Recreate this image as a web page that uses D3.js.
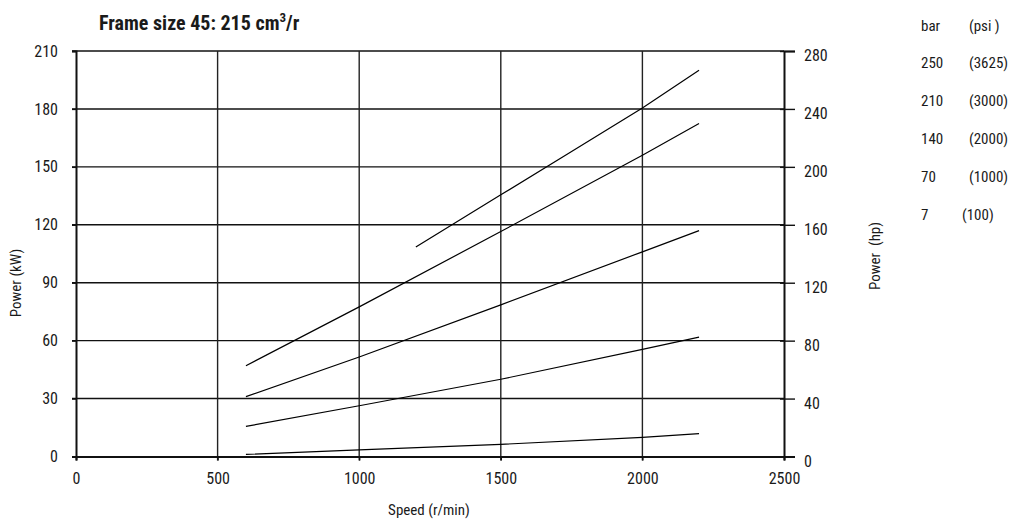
<!DOCTYPE html>
<html><head><meta charset="utf-8">
<script src="https://cdn.jsdelivr.net/npm/d3@7"></script>
<style>
html,body{margin:0;padding:0;background:#fff;}
svg text{font-family:"Liberation Sans Narrow","Arial Narrow","Roboto Condensed",sans-serif;fill:#1a1a1a;}
</style></head>
<body><svg id="c" width="1021" height="529"></svg>
<script>
const title = "Frame size 45: 215 cm";
const xTicks = [0, 500, 1000, 1500, 2000, 2500];
const yTicksKW = [0, 30, 60, 90, 120, 150, 180, 210];
const yTicksHP = [0, 40, 80, 120, 160, 200, 240, 280];
const legendBar = ["250", "210", "140", "70", "7"];
const legendPsi = ["(3625)", "(3000)", "(2000)", "(1000)", "(100)"];
const speed250 = [1200, 1500, 1750, 2000, 2200];
const kw250 = [108.5, 135.5, 158, 180.5, 200];
const speedLow = [600, 1000, 1500, 2000, 2200];
const kw210 = [47, 77.5, 116.5, 156, 172.5];
const kw140 = [31, 51.5, 78.5, 106, 117];
const kw70 = [15.6, 26.3, 40, 55.5, 61.8];
const kw7 = [1.1, 3.4, 6.3, 9.9, 11.8];

const svg = d3.select("#c");
const L = 76, R = 784, T = 51, B = 456.5;
const x = d3.scaleLinear().domain([0, 2500]).range([L, R]);
const y = d3.scaleLinear().domain([0, 210]).range([B, T]);
const yh = d3.scaleLinear().domain([0, 280]).range([B, T]);

// grid
svg.append("g").selectAll("line").data(yTicksKW.filter(d => d > 0)).join("line")
  .attr("x1", x(0) - 4).attr("x2", R).attr("y1", d => y(d)).attr("y2", d => y(d))
  .attr("stroke", "#111").attr("stroke-width", 1.4);
svg.append("g").selectAll("line").data(xTicks.filter(d => d > 0 && d < 2500)).join("line")
  .attr("x1", d => x(d)).attr("x2", d => x(d)).attr("y1", T).attr("y2", B + 4)
  .attr("stroke", "#222").attr("stroke-width", 1.4);

// left axis
const gl = svg.append("g").attr("transform", `translate(${L},0)`)
  .call(d3.axisLeft(y).tickValues(yTicksKW).tickSize(4).tickPadding(14).tickFormat(d3.format("d")));
gl.select(".domain").attr("stroke", "#111").attr("stroke-width", 2);
gl.selectAll(".tick line").attr("stroke", "#111").attr("stroke-width", 1.4);
gl.selectAll("text").style("font-size", "16px");

// bottom axis
const gb = svg.append("g").attr("transform", `translate(0,${B})`)
  .call(d3.axisBottom(x).tickValues(xTicks).tickSize(4).tickPadding(12).tickFormat(d3.format("d")));
gb.select(".domain").attr("stroke", "#111").attr("stroke-width", 2.2);
gb.selectAll(".tick line").attr("stroke", "#111").attr("stroke-width", 1.4);
gb.selectAll("text").style("font-size", "16px");

// right axis
const gr = svg.append("g").attr("transform", `translate(${R},0)`)
  .call(d3.axisRight(yh).tickValues(yTicksHP).tickSize(11).tickPadding(9).tickFormat(d3.format("d")));
gr.select(".domain").attr("stroke", "#111").attr("stroke-width", 2);
gr.selectAll(".tick line").attr("stroke", "#111").attr("stroke-width", 1.4).attr("x1", -4);
gr.selectAll("text").style("font-size", "16px").attr("dy", "0.6em");

// curves
const line = d3.line().x(d => x(d[0])).y(d => y(d[1]));
const series = [
  [speed250, kw250], [speedLow, kw210], [speedLow, kw140], [speedLow, kw70], [speedLow, kw7]
];
svg.append("g").selectAll("path").data(series).join("path")
  .attr("d", s => line(s[0].map((v, i) => [v, s[1][i]])))
  .attr("fill", "none").attr("stroke", "#000").attr("stroke-width", 1.2);

// title
const tt = svg.append("text").attr("x", 99).attr("y", 30)
  .style("font-size", "20px").style("font-weight", "bold").text(title);
tt.append("tspan").attr("dy", -8).style("font-size", "13px").text("3");
tt.append("tspan").attr("dy", 8).text("/r");

// axis labels
svg.append("text").attr("transform", "translate(17,283) rotate(-90)")
  .attr("text-anchor", "middle").attr("dominant-baseline", "middle")
  .style("font-size", "15px").text("Power (kW)");
svg.append("text").attr("transform", "translate(876,256) rotate(-90)")
  .attr("text-anchor", "middle").attr("dominant-baseline", "middle")
  .style("font-size", "15px").attr("xml:space", "preserve").text("Power  (hp)");
svg.append("text").attr("x", 429).attr("y", 515).attr("text-anchor", "middle")
  .style("font-size", "15px").text("Speed (r/min)");

// legend
const lg = svg.append("g").style("font-size", "15px");
lg.append("text").attr("x", 921).attr("y", 27).attr("dominant-baseline", "middle").text("bar");
lg.append("text").attr("x", 969).attr("y", 27).attr("dominant-baseline", "middle").attr("xml:space", "preserve").text("(psi )");
const rowY = d3.scalePoint().domain(legendBar).range([64, 216]);
lg.selectAll("text.b").data(legendBar).join("text").attr("class", "b")
  .attr("x", 921).attr("y", d => rowY(d)).attr("dominant-baseline", "middle").text(d => d);
lg.selectAll("text.p").data(legendPsi).join("text").attr("class", "p")
  .attr("x", (d, i) => i === legendPsi.length - 1 ? 962 : 969)
  .attr("y", (d, i) => rowY(legendBar[i])).attr("dominant-baseline", "middle").text(d => d);
</script></body></html>
